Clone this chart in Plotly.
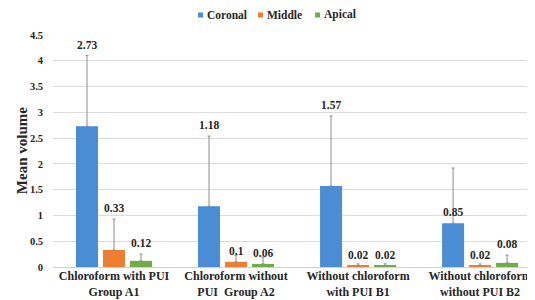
import plotly.graph_objects as go

categories = ["Chloroform with PUI<br>Group A1", "Chloroform without<br>PUI  Group A2",
              "Without chloroform<br>with PUI B1", "Without chloroform<br>without PUI B2"]
series_names = ["Coronal", "Middle", "Apical"]
coronal = [2.73, 1.18, 1.57, 0.85]
middle = [0.33, 0.10, 0.02, 0.02]
apical = [0.12, 0.06, 0.02, 0.08]
coronal_err = [1.37, 1.36, 1.36, 1.07]
middle_err = [0.60, 0.13, 0.04, 0.04]
apical_err = [0.13, 0.13, 0.04, 0.15]
# where each value label sits: above the error bar ("err") or above the bar ("bar")
coronal_lab = ["err", "err", "err", "bar"]
middle_lab = ["err", "bar", "bar", "bar"]
apical_lab = ["err", "bar", "bar", "err"]

colors = ["#4a8dd4", "#ed7d31", "#70ad47"]
FONT = "Liberation Serif"
TXT = "#262626"

values = [coronal, middle, apical]
errs = [coronal_err, middle_err, apical_err]
labs = [coronal_lab, middle_lab, apical_lab]

bargap = 0.336
slot = (1 - bargap) / 3

# plot-area geometry in figure pixels (used for placing the legend)
ML, MT, PW, PH = 45, 27, 482, 232

def px_x(fx):
    return (fx - ML) / PW

def px_y(fy):
    return (MT + PH - fy) / PH

fig = go.Figure()
annotations = []
shapes = []
for k in range(3):
    fig.add_trace(go.Bar(
        name=series_names[k], x=categories, y=values[k],
        marker=dict(color=colors[k], line=dict(width=0)),
        error_y=dict(type="data", array=errs[k], symmetric=False, arrayminus=[0]*4,
                     color="#8c8c8c", thickness=1, width=1.5),
        showlegend=False,
    ))
    for i in range(4):
        v = values[k][i]
        top = v + errs[k][i] if labs[k][i] == "err" else v
        annotations.append(dict(
            x=i + (k - 1) * slot, y=top, xref="x", yref="y",
            text="<b>%g</b>" % v, showarrow=False, yanchor="bottom", yshift=3,
            font=dict(family=FONT, size=11.5, color=TXT)))

# legend: small coloured squares + bold labels
legend_x = [190, 250, 307]
for c, n, lx in zip(colors, series_names, legend_x):
    shapes.append(dict(type="rect", xref="paper", yref="paper",
                       x0=px_x(lx), x1=px_x(lx + 5), y0=px_y(9.5), y1=px_y(4.5),
                       fillcolor=c, line=dict(width=0)))
    annotations.append(dict(x=px_x(lx + 7), y=px_y(7), xref="paper", yref="paper",
                            xanchor="left", yanchor="middle", showarrow=False,
                            text="<b>%s</b>" % n,
                            font=dict(family=FONT, size=11.5, color=TXT)))

# y-axis title
annotations.append(dict(
    x=-0.064, y=0.5, xref="paper", yref="paper", xanchor="center", yanchor="middle",
    text="<b>Mean volume</b>", textangle=-90, showarrow=False,
    font=dict(family=FONT, size=15, color=TXT)))

fig.update_layout(
    width=527, height=292,
    margin=dict(l=ML, r=0, t=MT, b=33),
    paper_bgcolor="white", plot_bgcolor="white",
    barmode="group", bargap=bargap, bargroupgap=0.185,
    font=dict(family=FONT, color=TXT),
    showlegend=False,
    annotations=annotations,
    shapes=shapes,
    xaxis=dict(range=[-0.5, 3.45], showgrid=False, showline=False, ticks="",
               tickfont=dict(family=FONT, size=12, color=TXT, weight="bold")),
    yaxis=dict(range=[0, 4.5], dtick=0.5, showgrid=True, gridcolor="#dcdcdc", gridwidth=1,
               zeroline=True, zerolinecolor="#d0d0d0", zerolinewidth=1, showline=False,
               ticks="", ticklabelstandoff=9,
               tickfont=dict(family=FONT, size=10.5, color=TXT, weight="bold")),
)

fig.write_html("out.html")
